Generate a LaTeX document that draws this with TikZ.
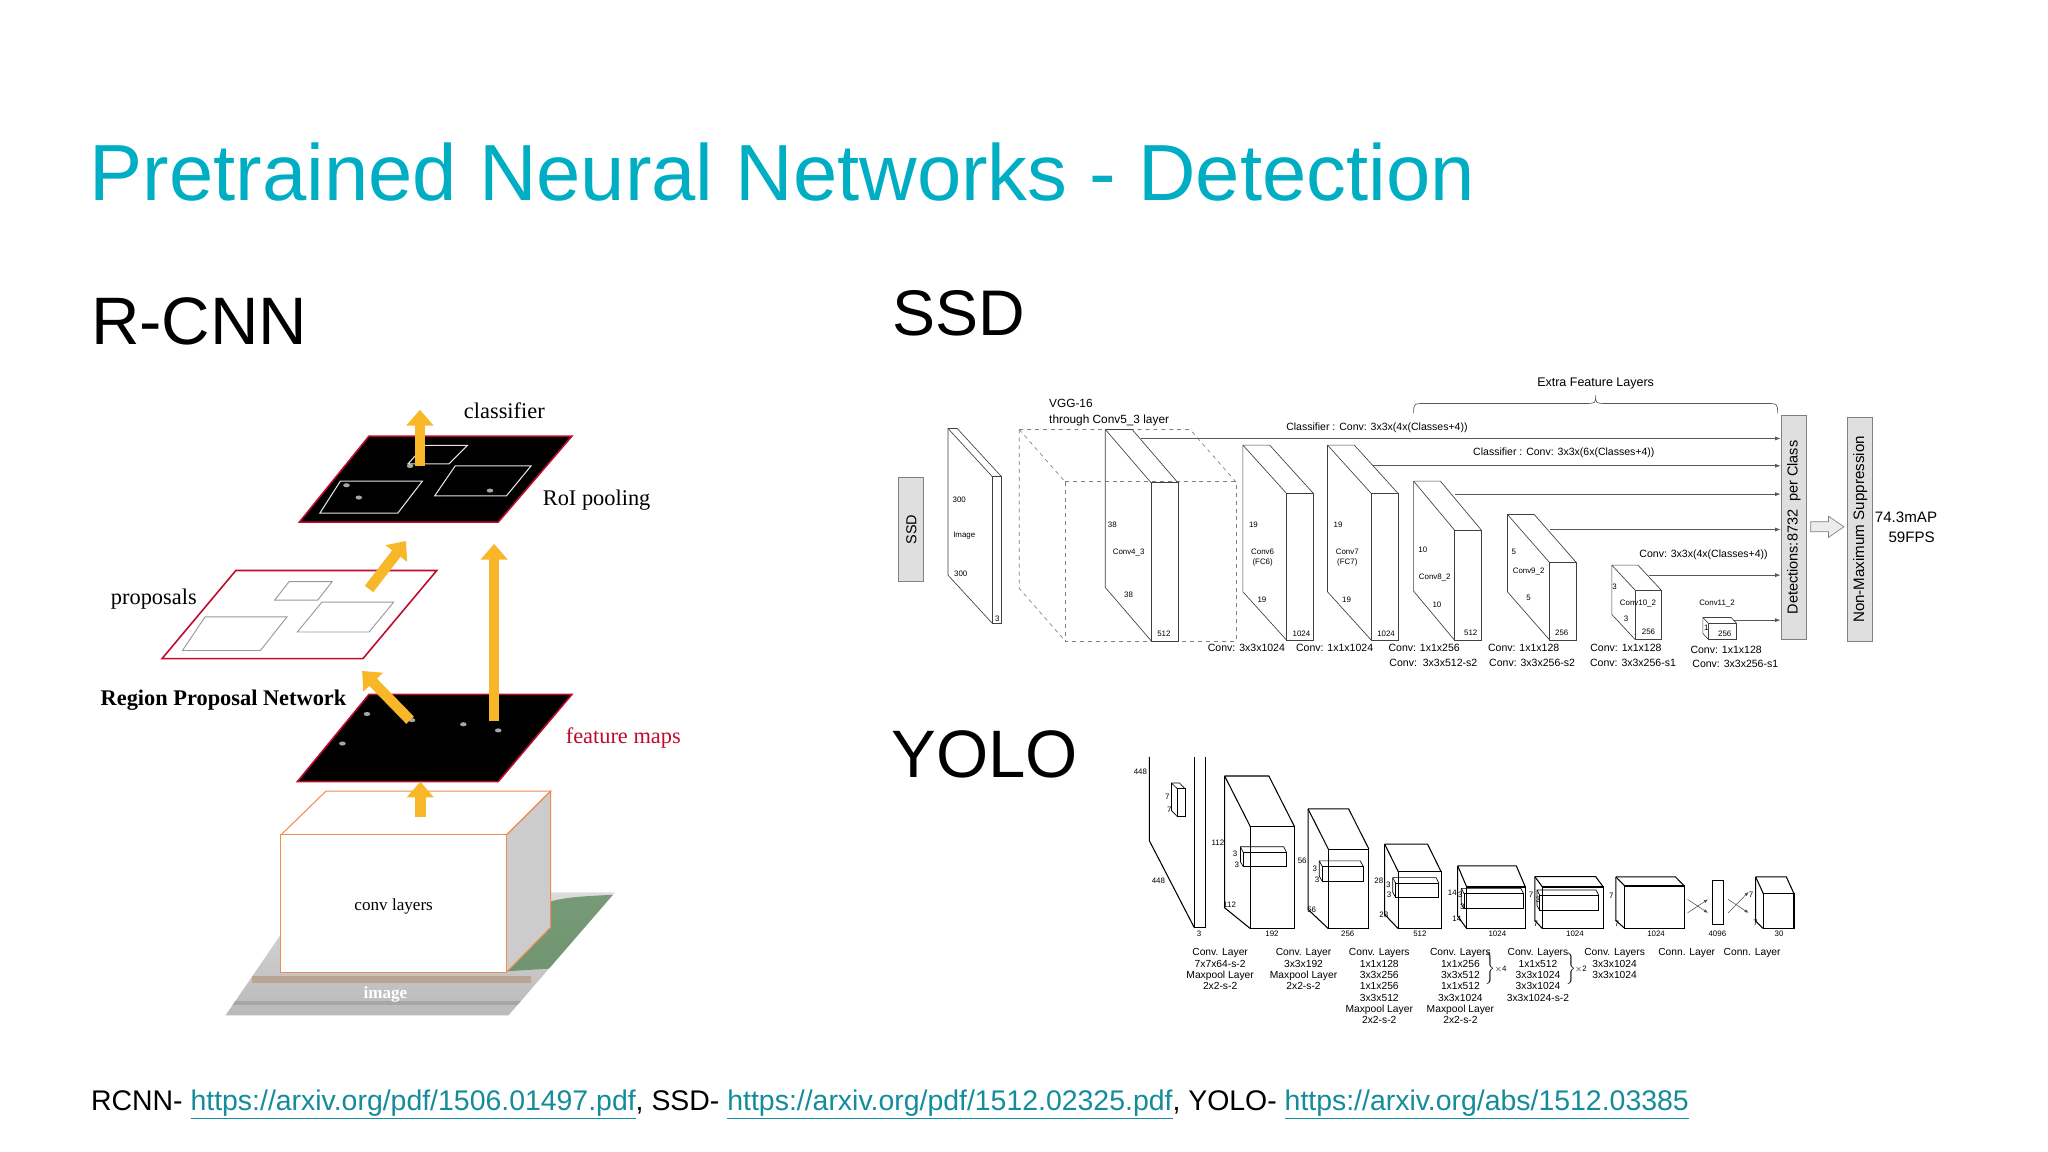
\documentclass[tikz,border=0pt]{standalone}
\usepackage{fontspec}
\setmainfont{Liberation Sans}
\newfontfamily\rserif{Liberation Serif}
\usetikzlibrary{arrows.meta}
\definecolor{titlecol}{RGB}{0,174,196}
\definecolor{linkcol}{RGB}{20,140,155}
\definecolor{rred}{RGB}{192,10,45}
\definecolor{ayel}{RGB}{247,183,41}
\definecolor{obox}{RGB}{240,140,80}
\newcounter{lb}
\newcommand\tl[4][tiny]{\stepcounter{lb}\node[#1] (t\arabic{lb}) at (#2,#3) {#4};}
\newcommand\ssdcube[6]{%
 \draw (#1,#2) -- (#1,{#2+#6}) -- ({#1+#3},{#2+#4+#6});
 \draw (#1,#2) -- ({#1+#3},{#2+#4});
 \draw (#1,#2) -- ({#1+#5},#2) -- ({#1+#3+#5},{#2+#4});
 \draw ({#1+#3},{#2+#4}) rectangle ({#1+#3+#5},{#2+#4+#6});}
\newcommand\yolocube[7]{%
 \draw (#1,#2) -- (#1,#3) -- (#4,#7);
 \draw (#1,#2) -- (#4,#5);
 \draw (#1,#2) -- ({#1+#6-#4},#2) -- (#6,#5);
 \draw (#4,#5) rectangle (#6,#7);}
\newcommand\yinner[4]{%
 \draw ({#1+6},{#2+16}) rectangle (#3,#4);
 \draw (#1,#2) -- ({#3-6},#2) -- (#3,{#2+16});
 \draw (#1,#2) -- ({#1+6},{#2+16});
 \draw (#1,#2) -- (#1,{#4-14}) -- ({#1+6},#4);}
\newcommand\lnk[1]{\textcolor{linkcol}{\underline{#1}}}
\tikzset{
 tiny/.style={font=\fontsize{6}{7}\selectfont,inner sep=0pt},
 slbl/.style={font=\fontsize{8}{9}\selectfont,inner sep=0pt},
 ylbl/.style={font=\fontsize{7.8}{8.6}\selectfont,inner sep=0pt,align=center},
 rlbl/.style={font=\rserif\fontsize{17}{19}\selectfont,inner sep=0pt},
 fat/.style={ayel,line width=8pt,-{Triangle[width=20pt,length=12pt]}},
 fmap/.style={fill=black,draw=rred,line width=1.2pt},
 wbox/.style={draw=gray!80,line width=0.7pt},
 head/.style={font=\fontsize{51}{55}\selectfont,inner sep=0pt,anchor=base west},
}
\begin{document}
\begin{tikzpicture}[x=1pt,y=-1pt]
\useasboundingbox[fill=white] (0,0) rectangle (1556,875.25);
% titles
\node[inner sep=0pt,anchor=base west,text=titlecol,font=\fontsize{60.5}{64}\selectfont] (title) at (68,152) {Pretrained Neural Networks - Detection};
\node[head] (hr) at (69,262) {R-CNN};
\node[head,font=\fontsize{49}{53}\selectfont] (hs) at (678,255) {SSD};
\node[head] (hy) at (677,591) {YOLO};
\node[inner sep=0pt,anchor=base west,font=\fontsize{21.6}{23}\selectfont] (refs) at (69,844)
 {RCNN- \lnk{https://arxiv.org/pdf/1506.01497.pdf}, SSD- \lnk{https://arxiv.org/pdf/1512.02325.pdf}, YOLO- \lnk{https://arxiv.org/abs/1512.03385}};

% ---------------- R-CNN ----------------
\begin{scope}[xshift=60.8pt,yshift=-296.4pt,x=0.3115pt,y=-0.3115pt]
 % image plane
 \begin{scope}
 \clip (355,1525) -- (560,1225) -- (1305,1225) -- (1045,1525) -- cycle;
 \shade[top color=gray!25,bottom color=gray!55] (300,1200) rectangle (1320,1530);
 \fill[green!25!gray!80!black, opacity=0.7] (1000,1420) .. controls (1100,1240) .. (1320,1230) -- (1320,1400) -- cycle;
 \fill[brown!40!gray!70] (420,1430) rectangle (1100,1445);
 \fill[gray!70] (360,1490) rectangle (1100,1500);
 \end{scope}
 \node[font=\rserif\bfseries\fontsize{13}{14}\selectfont,text=white,inner sep=0pt] (img) at (745,1475) {image};
 % conv box
 \fill[gray!40] (1040,1085) -- (1148,978) -- (1148,1310) -- (1040,1420) -- cycle;
 \draw[obox,line width=0.8pt,fill=white] (490,1085) -- (600,978) -- (1148,978) -- (1040,1085) -- cycle;
 \draw[obox,line width=0.8pt,fill=white] (490,1085) rectangle (1040,1420);
 \draw[obox,line width=0.8pt] (1040,1085) -- (1148,978) -- (1148,1310) -- (1040,1420);
 \node[font=\rserif\fontsize{13}{14}\selectfont,inner sep=0pt] (conv) at (765,1260) {conv layers};
 % feature maps
 \draw[fmap] (530,955) -- (705,742) -- (1200,742) -- (1020,955) -- cycle;
 \foreach \p in {(810,805),(640,862),(935,815),(1020,830),(700,790)} \fill[gray!70] \p ellipse (8 and 5);
 \node[rlbl,text=rred] (fm) at (1325,848) {feature maps};
 % proposals
 \draw[rred,line width=1.2pt,fill=white] (200,655) -- (380,440) -- (870,440) -- (690,655) -- cycle;
 \draw[wbox] (250,635) -- (305,553) -- (505,553) -- (440,635) -- cycle;
 \draw[wbox] (530,590) -- (590,517) -- (765,517) -- (705,590) -- cycle;
 \draw[wbox] (475,512) -- (510,467) -- (615,467) -- (580,512) -- cycle;
 \node[rlbl] (prop) at (180,510) {proposals};
 % RoI
 \draw[fmap] (535,322) -- (705,112) -- (1200,112) -- (1020,322) -- cycle;
 \foreach \p in {(650,232),(805,185),(680,262),(1000,245)} \fill[gray!70] \p ellipse (8 and 5);
 \draw[white!80!gray,line width=0.8pt] (585,300) -- (635,222) -- (835,222) -- (775,300) -- cycle;
 \draw[white!80!gray,line width=0.8pt] (865,258) -- (915,185) -- (1100,185) -- (1040,258) -- cycle;
 \draw[white!80!gray,line width=0.8pt] (800,180) -- (840,135) -- (945,135) -- (900,180) -- cycle;
 \node[rlbl] (roi) at (1260,268) {RoI pooling};
 \node[rlbl] (cls) at (1035,50) {classifier};
 \node[rlbl,font=\rserif\bfseries\fontsize{17}{19}\selectfont] (rpn) at (350,757) {Region Proposal Network};
 % arrows
 \coordinate (a1) at (830,1040); \coordinate (a2) at (830,955);
 \draw[fat] (a1) -- (a2);
 \coordinate (b1) at (805,805); \coordinate (b2) at (688,685);
 \draw[fat] (b1) -- (b2);
 \coordinate (c1) at (1010,808); \coordinate (c2) at (1010,375);
 \draw[fat] (c1) -- (c2);
 \coordinate (d1) at (705,485); \coordinate (d2) at (795,368);
 \draw[fat] (d1) -- (d2);
 \coordinate (e1) at (829,185); \coordinate (e2) at (829,48);
 \draw[fat] (e1) -- (e2);
\end{scope}

% ---------------- SSD ----------------
\begin{scope}[xshift=676.3pt,yshift=-281.2pt,x=0.536pt,y=-0.2533pt,line width=0.5pt,draw=black!75]
 \draw[gray,fill=gray!25] (12,322) rectangle (47,635);
 \node[rotate=90,font=\fontsize{11}{12}\selectfont,inner sep=0pt] (ssdl) at (30,478) {SSD};
 \ssdcube{82}{175}{63}{145}{13}{440}
 \tl{98}{390}{300}\tl{105}{495}{Image}\tl{100}{612}{300}\tl{152}{745}{3}
 \begin{scope}[dashed,gray]
 \ssdcube{183}{178}{65}{157}{242}{477}
 \end{scope}
 \ssdcube{305}{178}{65}{160}{38}{474}
 \tl{315}{463}{38}\tl{338}{548}{Conv4\_3}\tl{338}{675}{38}\tl{388}{790}{512}
 \ssdcube{500}{225}{62}{145}{38}{440}
 \tl{515}{463}{19}\node[tiny,align=center] (c6) at (528,562) {Conv6\\(FC6)};\tl{527}{690}{19}\tl{583}{790}{1024}
 \ssdcube{620}{225}{62}{145}{38}{440}
 \tl{635}{463}{19}\node[tiny,align=center] (c7) at (648,562) {Conv7\\(FC7)};\tl{647}{690}{19}\tl{703}{790}{1024}
 \ssdcube{742}{333}{58}{147}{38}{330}
 \tl{755}{538}{10}\tl{772}{623}{Conv8\_2}\tl{775}{705}{10}\tl{823}{788}{512}
 \ssdcube{875}{433}{60}{145}{38}{232}
 \tl{884}{545}{5}\tl{905}{603}{Conv9\_2}\tl{905}{683}{5}\tl{952}{788}{256}
 \ssdcube{1023}{585}{33}{75}{37}{148}
 \tl{1027}{650}{3}\tl{1060}{700}{Conv10\_2}\tl{1043}{745}{3}\tl{1075}{785}{256}
 \ssdcube{1152}{742}{8}{18}{40}{48}
 \tl{1172}{700}{Conv11\_2}\tl{1183}{790}{256}\tl{1157}{772}{1}
 % bars
 \draw[gray,fill=gray!25] (1263,137) rectangle (1298,808);
 \node[rotate=90,font=\fontsize{11}{12}\selectfont,inner sep=0pt] (det) at (1281,472) {Detections:8732\ \ per Class};
 \draw[gray,fill=gray!25] (1357,143) rectangle (1392,812);
 \node[rotate=90,font=\fontsize{11.5}{12}\selectfont,inner sep=0pt] (nms) at (1375,478) {Non-Maximum Suppression};
 \draw[gray,fill=gray!15] (1305,455) -- (1330,455) -- (1330,438) -- (1352,470) -- (1330,502) -- (1330,485) -- (1305,485) -- cycle;
 \node[font=\fontsize{11.5}{12}\selectfont,inner sep=0pt] (map) at (1440,440) {74.3mAP};
 \node[font=\fontsize{11.5}{12}\selectfont,inner sep=0pt] (fps) at (1448,502) {59FPS};
 % arrows to detections
 \foreach \x/\y in {355/205,685/287,800/372,935/478,1075/615,1195/750}
   \draw[gray!70!black,-{Latex[length=4pt,width=3pt]}] (\x,\y) -- (1262,\y);
 \node[slbl] (cl1) at (690,172) {Classifier : Conv: 3x3x(4x(Classes+4))};
 \node[slbl] (cl2) at (955,247) {Classifier : Conv: 3x3x(6x(Classes+4))};
 \node[slbl] (cl3) at (1153,553) {Conv: 3x3x(4x(Classes+4))};
 \draw[gray!70!black] (742,130) .. controls (742,100) .. (760,100) -- (985,100) .. controls (1000,100) .. (1000,75) .. controls (1000,100) .. (1015,100) -- (1240,100) .. controls (1258,100) .. (1258,130);
 \node[font=\fontsize{9.5}{11}\selectfont,inner sep=0pt] (efl) at (1000,40) {Extra Feature Layers};
 \node[slbl,font=\fontsize{9}{10}\selectfont,anchor=west] (vgg) at (225,100) {VGG-16};
 \node[slbl,font=\fontsize{9}{10}\selectfont,anchor=west] (vgg2) at (225,152) {through Conv5\_3 layer};
 \tl[slbl]{505}{833}{Conv: 3x3x1024}
 \tl[slbl]{630}{833}{Conv: 1x1x1024}
 \tl[slbl]{757}{833}{Conv: 1x1x256}\tl[slbl]{770}{878}{Conv:\ \ 3x3x512-s2}
 \tl[slbl]{898}{833}{Conv: 1x1x128}\tl[slbl]{910}{878}{Conv: 3x3x256-s2}
 \tl[slbl]{1043}{833}{Conv: 1x1x128}\tl[slbl]{1053}{878}{Conv: 3x3x256-s1}
 \tl[slbl]{1185}{838}{Conv: 1x1x128}\tl[slbl]{1198}{880}{Conv: 3x3x256-s1}
\end{scope}

% ---------------- YOLO ----------------
\begin{scope}[xshift=856.8pt,yshift=-567.4pt,x=0.3425pt,y=-0.2548pt,line width=0.8pt]
 \draw (48,30) -- (48,280) -- (148,540);
 \draw (148,30) -- (148,540) -- (172,540) -- (172,30);
 \draw[line width=0.5pt] (110,125) rectangle (127,208);
 \draw[line width=0.5pt] (97,108) -- (115,108) -- (127,125);
 \draw[line width=0.5pt] (97,108) -- (110,125); \draw[line width=0.5pt] (97,108) -- (97,190) -- (110,208);
 \tl{28}{75}{448}\tl{68}{400}{448}\tl{158}{558}{3}\tl{88}{150}{7}\tl{92}{188}{7}
 \yolocube{215}{87}{480}{272}{238}{370}{542}
 \begin{scope}[line width=0.5pt]\yinner{250}{298}{352}{357}\end{scope}
 \tl{200}{285}{112}\tl{226}{470}{112}\tl{320}{558}{192}\tl{238}{320}{3}\tl{242}{352}{3}
 \yolocube{400}{185}{485}{445}{305}{535}{542}
 \begin{scope}[line width=0.5pt]\yinner{425}{340}{522}{400}\end{scope}
 \tl{387}{340}{56}\tl{408}{487}{56}\tl{488}{558}{256}\tl{415}{363}{3}\tl{420}{395}{3}
 \yolocube{570}{290}{500}{600}{372}{695}{542}
 \begin{scope}[line width=0.5pt]\yinner{588}{390}{690}{448}\end{scope}
 \tl{557}{400}{28}\tl{568}{500}{28}\tl{648}{558}{512}\tl{578}{410}{3}\tl{580}{440}{3}
 \yolocube{732}{355}{505}{752}{418}{882}{542}
 \begin{scope}[line width=0.5pt]\yinner{740}{422}{878}{483}\end{scope}
 \tl{720}{435}{14}\tl{730}{512}{14}\tl{820}{558}{1024}\tl{738}{442}{3}\tl{742}{478}{3}
 \yolocube{903}{387}{518}{920}{418}{1055}{542}
 \begin{scope}[line width=0.5pt]\yinner{908}{427}{1045}{488}\end{scope}
 \tl{895}{440}{7}\tl{905}{527}{7}\tl{992}{558}{1024}\tl{910}{455}{3}
 \yolocube{1083}{388}{518}{1103}{415}{1235}{542}
 \tl{1073}{443}{7}\tl{1085}{527}{7}\tl{1172}{558}{1024}
 \draw (1297,398) rectangle (1322,530);
 \tl{1308}{558}{4096}
 \yolocube{1393}{388}{520}{1410}{438}{1478}{542}
 \tl{1383}{440}{7}\tl{1393}{525}{7}\tl{1445}{558}{30}
 \begin{scope}[line width=0.4pt,gray!60!black,-{Latex[length=3pt,width=2.5pt]}]
 \draw (1242,455) -- (1287,495); \draw (1242,495) -- (1287,455);
 \draw (1332,455) -- (1377,495); \draw (1332,495) -- (1377,433);
 \end{scope}
 \node[ylbl,anchor=north] (y1) at (205,600) {Conv. Layer\\7x7x64-s-2\\Maxpool Layer\\2x2-s-2};
 \node[ylbl,anchor=north] (y2) at (390,600) {Conv. Layer\\3x3x192\\Maxpool Layer\\2x2-s-2};
 \node[ylbl,anchor=north] (y3) at (558,600) {Conv. Layers\\1x1x128\\3x3x256\\1x1x256\\3x3x512\\Maxpool Layer\\2x2-s-2};
 \node[ylbl,anchor=north] (y4) at (738,600) {Conv. Layers\\1x1x256\\3x3x512\\1x1x512\\3x3x1024\\Maxpool Layer\\2x2-s-2};
 \node[ylbl,anchor=west] (y4b) at (790,662) {$\left.\vphantom{\rule{0pt}{14pt}}\right\}$\kern-1pt\fontsize{6}{7}\selectfont$\times$4};
 \node[ylbl,anchor=north] (y5) at (910,600) {Conv. Layers\\1x1x512\\3x3x1024\\3x3x1024\\3x3x1024-s-2};
 \node[ylbl,anchor=west] (y5b) at (968,662) {$\left.\vphantom{\rule{0pt}{14pt}}\right\}$\kern-1pt\fontsize{6}{7}\selectfont$\times$2};
 \node[ylbl,anchor=north] (y6) at (1080,600) {Conv. Layers\\3x3x1024\\3x3x1024};
 \node[ylbl,anchor=north] (y7) at (1240,600) {Conn. Layer};
 \node[ylbl,anchor=north] (y8) at (1385,600) {Conn. Layer};
\end{scope}
\end{tikzpicture}
\end{document}
